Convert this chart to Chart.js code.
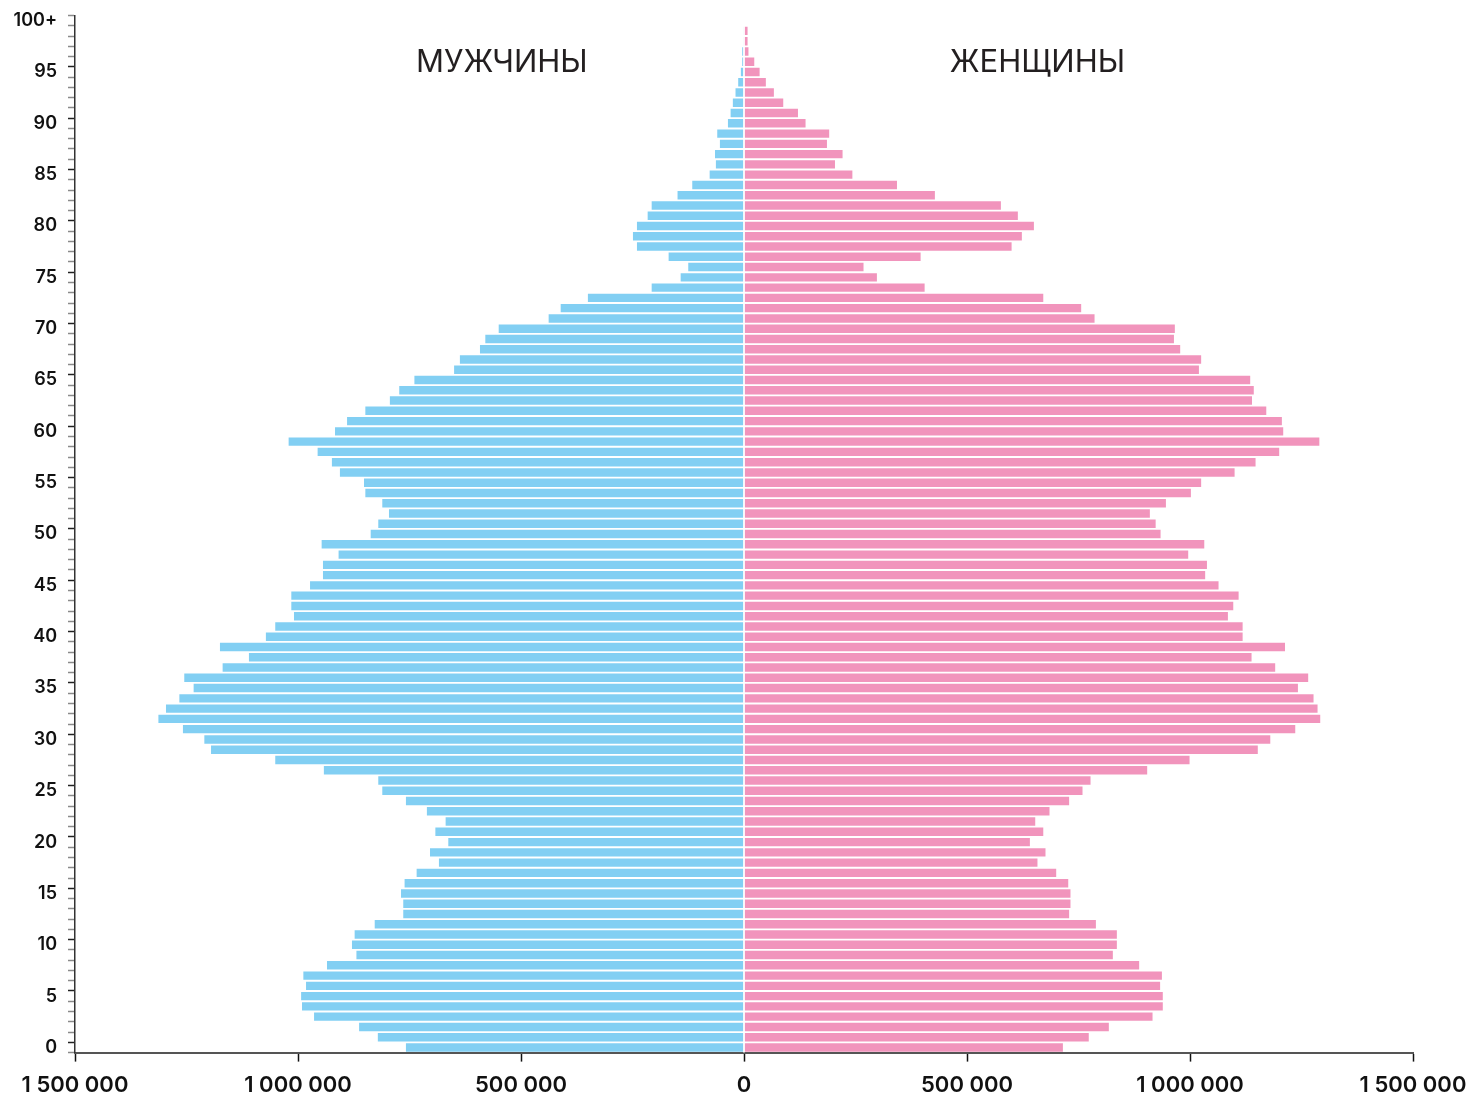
<!DOCTYPE html>
<html>
<head>
<meta charset="utf-8">
<script src="https://cdn.jsdelivr.net/npm/chart.js@4/dist/chart.umd.min.js"></script>
<style>
  html, body { margin: 0; padding: 0; background: #fff; }
  #wrap { width: 1474px; height: 1099px; }
</style>
</head>
<body>
<div id="wrap"><canvas id="piramide"></canvas></div>
<script>
// Возраст 0..100+
const idades = [];
for (let a = 0; a <= 100; a++) idades.push(a === 100 ? '100+' : String(a));

// Мужчины, тыс. человек (по возрасту 0..100+)
const homens = [
  758, 821, 863, 964, 991, 993, 982, 988, 935, 869,
  879, 873, 828, 764, 764, 769, 761, 734, 684, 704,
  663, 692, 669, 711, 758, 811, 820, 942, 1051, 1195,
  1210, 1258, 1313, 1296, 1266, 1234, 1255, 1169, 1110, 1175,
  1072, 1051, 1009, 1015, 1015, 973, 944, 944, 909, 947,
  837, 820, 796, 811, 849, 852, 906, 924, 956, 1021,
  917, 890, 849, 794, 773, 739, 650, 637, 592, 580,
  550, 438, 411, 350, 207, 142, 125, 169, 240, 249,
  240, 216, 207, 149, 116, 77, 63, 65, 54, 60,
  36, 30, 25, 19, 13, 7, 4, 4, 0.5, 0.5,
  0
];

// Женщины, тыс. человек
const mulheres = [
  715, 773, 818, 916, 939, 939, 933, 937, 886, 827,
  836, 836, 789, 729, 732, 732, 727, 700, 658, 676,
  641, 671, 653, 685, 729, 759, 777, 904, 999, 1152,
  1180, 1236, 1292, 1286, 1277, 1242, 1265, 1191, 1138, 1213,
  1118, 1118, 1085, 1097, 1109, 1064, 1034, 1038, 996, 1032,
  934, 923, 910, 946, 1002, 1025, 1100, 1147, 1200, 1290,
  1209, 1206, 1171, 1139, 1143, 1135, 1020, 1025, 978, 964,
  966, 786, 756, 671, 405, 298, 268, 396, 600, 623,
  650, 614, 576, 428, 343, 243, 204, 221, 186, 191,
  138, 121, 88, 67, 49, 35, 23, 10, 8, 8,
  0
];

const titulos = ['МУЖЧИНЫ', 'ЖЕНЩИНЫ'];
const limiteX = 1500000;

// formata 1500000 -> "1 500 000"
function formatar(v) {
  return String(Math.abs(v)).replace(/\B(?=(\d{3})+(?!\d))/g, ' ');
}

// títulos e a linha branca no zero
const extras = {
  id: 'extras',
  afterDatasetsDraw(chart) {
    const ctx = chart.ctx;
    const x = chart.scales.x;
    const area = chart.chartArea;
    const x0 = x.getPixelForValue(0);
    ctx.save();
    ctx.strokeStyle = '#ffffff';
    ctx.lineWidth = 1.6;
    ctx.beginPath();
    ctx.moveTo(x0, area.top);
    ctx.lineTo(x0, area.bottom);
    ctx.stroke();

    ctx.fillStyle = '#231f20';
    ctx.font = '400 31px Inter, "Noto Sans", sans-serif';
    ctx.textAlign = 'center';
    ctx.textBaseline = 'middle';
    ctx.fillText(titulos[0], x.getPixelForValue(-543000), area.top + 47);
    ctx.fillText(titulos[1], x.getPixelForValue(658000), area.top + 47);
    ctx.restore();
  }
};

const ctxPiramide = document.getElementById('piramide').getContext('2d');
const graficoPiramide = new Chart(ctxPiramide, {
  type: 'bar',
  data: {
    labels: idades,
    datasets: [{
      label: titulos[0],
      data: homens.map(v => -v * 1000),
      backgroundColor: '#82cff3',
      barPercentage: 0.82,
      categoryPercentage: 1
    }, {
      label: titulos[1],
      data: mulheres.map(v => v * 1000),
      backgroundColor: '#f194bc',
      barPercentage: 0.82,
      categoryPercentage: 1
    }]
  },
  options: {
    indexAxis: 'y',
    responsive: true,
    maintainAspectRatio: false,
    animation: false,
    layout: { padding: { top: 15.5, right: 61, left: 0, bottom: 0 } },
    plugins: {
      legend: { display: false },
      tooltip: { enabled: false }
    },
    scales: {
      x: {
        stacked: true,
        min: -limiteX,
        max: limiteX,
        ticks: {
          stepSize: 500000,
          padding: 11,
          color: '#111',
          font: { family: 'Inter', size: 22, weight: '600' },
          callback: v => formatar(v)
        },
        grid: {
          drawOnChartArea: false,
          drawTicks: true,
          tickLength: 9,
          tickColor: '#111',
          tickWidth: 1.5
        },
        border: { display: true, color: '#555', width: 2 },
        afterFit(scale) {
          scale.height = 46.4;
          scale.paddingLeft = 0;
          scale.paddingRight = 0;
        }
      },
      y: {
        stacked: true,
        reverse: true,
        ticks: {
          autoSkip: false,
          padding: 11,
          color: '#111',
          font: { family: 'Inter', size: 18, weight: '600' },
          callback: function (val, i) {
            return i % 5 === 0 ? this.getLabelForValue(val) : '';
          }
        },
        grid: {
          drawOnChartArea: false,
          drawTicks: true,
          tickLength: 7,
          tickWidth: 1.5,
          tickColor: c => ((c.index - 1) % 5 === 0 ? '#222' : '#8a8a8a')
        },
        border: { display: true, color: '#333', width: 1.5 },
        afterFit(scale) {
          scale.width = 75;
          scale.paddingTop = 0;
          scale.paddingBottom = 0;
        }
      }
    }
  },
  plugins: [extras]
});
</script>
</body>
</html>
